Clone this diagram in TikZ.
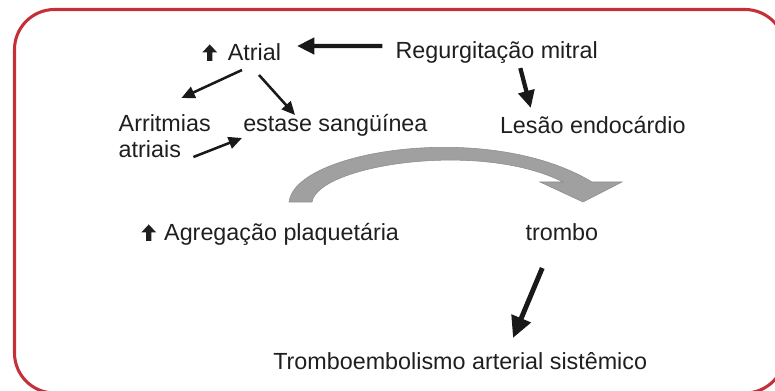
\documentclass[tikz,border=0pt]{standalone}
\usepackage{fontspec}
\setmainfont{Liberation Sans}
\usetikzlibrary{positioning,calc,arrows.meta}
\definecolor{framered}{RGB}{196,48,58}
\definecolor{curvegray}{RGB}{160,160,160}
\newcommand{\upmark}{\tikz[baseline=0pt]{\fill[black!88] (-1.9pt,0pt) -- (1.9pt,0pt) -- (1.9pt,6.4pt) -- (5.6pt,6.4pt) -- (0pt,12.4pt) -- (-5.6pt,6.4pt) -- (-1.9pt,6.4pt) -- cycle;}}
\tikzset{lbl/.style={anchor=base west, inner sep=0pt, text=black!88, font=\fontsize{17.5}{19.5}\selectfont}, }
\tikzset{thin arrow/.style={draw=black!90, line width=1.9pt, -{Triangle[width=9pt,length=10pt]}}, }
\tikzset{bold arrow/.style={draw=black!90, line width=3.2pt, -{Triangle[width=12pt,length=13pt]}}, }

\begin{document}
\begin{tikzpicture}[x=0.75pt, y=-0.75pt]
	\path[use as bounding box] (0,0) rectangle (775,391);
	\begin{scope}
		\clip (0,0) rectangle (775,391);
		\draw[framered, line width=2.3pt, rounded corners=30pt] (14.5,9.5) rectangle (785,393);
	\end{scope}
	\node[lbl] (atrial) at (202,61) {\upmark\hspace{8pt}Atrial};
	\node[lbl] (regurg) [base right=85.5pt of atrial, yshift=2.2pt] {Regurgitação mitral};
	\node[lbl] (estase) at (243,132) {estase sangüínea};
	\node[lbl, align=left] (arr) [base left=24pt of estase, yshift=-19.5pt] {Arritmias\\[0.5pt]atriais};
	\node[lbl] (lesao) [base right=54pt of estase, yshift=-1.5pt] {Lesão endocárdio};
	\node[lbl] (agreg) at (141,241) {\upmark\hspace{6pt}Agregação plaquetária};
	\node[lbl] (trombo) [base right=94.5pt of agreg] {trombo};
	\node[lbl] (emb) at (273,370) {Tromboembolismo arterial sistêmico};
	% gray curved arrow
	\fill[curvegray, draw=black!45, line width=0.4pt]
		(289,202) .. controls (295,150) and (490,120) .. (592,182)
		-- (622,182) -- (583,202) -- (540,182) -- (563,182)
		.. controls (480,140) and (318,165) .. (312,202) -- cycle;
	\path
		($(regurg.base west)+(-13,-12)$) edge[bold arrow] ($(atrial.base west)+(95,-15)$)
		($(regurg.base west)+(125,10)$) edge[bold arrow] ($(lesao.base west)+(31,-26)$)
		($(atrial.base west)+(40,9)$) edge[thin arrow] ($(arr.base west)+(63,-60)$)
		($(atrial.base west)+(57,14)$) edge[thin arrow] ($(estase.base west)+(52,-17)$)
		($(arr.base west)+(75,-1)$) edge[thin arrow] ($(estase.base west)+(-1,6)$)
		;
	\draw[draw=black!90, line width=3.7pt, -{Triangle[width=15pt,length=16pt]}]
		($(trombo.base west)+(17,27)$) -- ($(emb.base west)+(240,-32)$);
\end{tikzpicture}
\end{document}
